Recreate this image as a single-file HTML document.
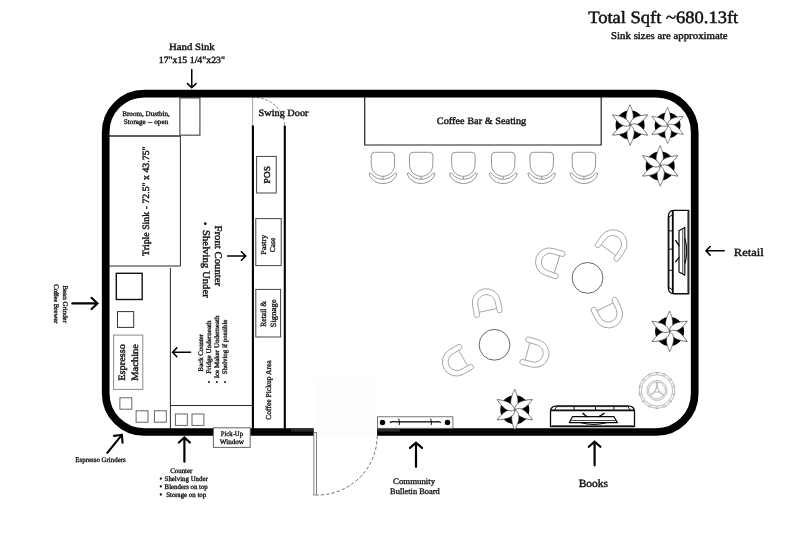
<!DOCTYPE html>
<html>
<head>
<meta charset="utf-8">
<title>Floor Plan</title>
<style>
html,body{margin:0;padding:0;background:#fff;}
body{width:800px;height:533px;overflow:hidden;font-family:"Liberation Serif",serif;}
svg{display:block;will-change:transform;opacity:0.999;}
text{font-family:"Liberation Serif",serif;text-rendering:geometricPrecision;}
</style>
</head>
<body>
<svg width="800" height="533" viewBox="0 0 800 533">
<defs>
  <g id="stool" fill="none" stroke="#7a7a7a" stroke-width="0.8">
    <path d="M-8.3,-14.7 Q-11.8,-14.7 -11.8,-11 L-11.6,-2 C-11.3,5 -6,9.3 0,9.3 C6,9.3 11.3,5 11.6,-2 L11.8,-11 Q11.8,-14.7 8.3,-14.7 Z" fill="#fff"/>
    <path d="M-13.8,7 Q-13.7,5.6 -12.5,5.9 Q-11.5,6.2 -11,7.3 C-8,10.6 -4,12.3 0,12.3 C4,12.3 8,10.6 11,7.3 Q11.5,6.2 12.5,5.9 Q13.7,5.6 13.8,7 C12,13.2 6,16.5 0,16.5 C-6,16.5 -12,13.2 -13.8,7 Z" fill="#fff"/>
    <path d="M0,9.5 V12.1"/>
  </g>
  <path id="petal" d="M0,0 C-6.4,-3.6 -4.5,-11.5 0,-20.4 C2.9,-13.5 5.3,-6 0,0 Z" fill="#fff" stroke="#333" stroke-width="0.6" stroke-linejoin="round"/>
  <g id="plant">
    <circle r="14.5" fill="#000"/>
    <use href="#petal"/>
    <use href="#petal" transform="rotate(60)"/>
    <use href="#petal" transform="rotate(120)"/>
    <use href="#petal" transform="rotate(180)"/>
    <use href="#petal" transform="rotate(240)"/>
    <use href="#petal" transform="rotate(300)"/>
  </g>
  <g id="chair" fill="none" stroke="#9a9a9a" stroke-width="0.8">
    <path d="M-14.2,10.6 L-14,0.5 A14,14 0 0 1 14,0.5 L14.2,10.6 A2.6,2.6 0 0 1 9,10.6 L8.8,1 A8.8,8.6 0 0 0 -8.8,1 L-9,10.6 A2.6,2.6 0 0 1 -14.2,10.6 Z" fill="#fff"/>
    <path d="M-9,8.4 H9"/>
  </g>
  <!-- shelf (books orientation: rail on top) centred at origin, 84.4 x 21 -->
  <g id="shelf" fill="none" stroke="#0a0a0a" stroke-linejoin="round">
    <path d="M-42,10.4 V-5 Q-42,-10.3 -35,-10.4 H35 Q42,-10.3 42,-5 V10.4 Z" fill="#fff" stroke-width="1.3"/>
    <path d="M-42,-5.8 H42" stroke-width="1.9"/>
    <path d="M-37,-9.6 H36.5" stroke-width="0.9" stroke="#111"/>
    <path d="M-18.4,-10 V-6 M3,-10 V-6 M21.4,-10 V-6 M-35.6,-10 L-38.2,-6 M35.1,-10 L37.7,-6" stroke-width="1" stroke="#111"/>
    <path d="M-23.2,6.4 L-20,0.5 H21.5 L24.9,6.4 Z" stroke-width="1.2"/>
    <path d="M-21.3,4.3 H23.2" stroke-width="0.9" stroke="#333"/>
    <path d="M-9.6,-2.8 L-5.6,0.5 M11.6,-2.8 L6.6,0.5" stroke-width="1.4" stroke-linecap="round"/>
    <path d="M-11.5,6.6 Q1,10 13.8,6.6" stroke-width="1.1"/>
    <path d="M-41,9.4 H41" stroke-width="0.9" stroke="#444"/>
  </g>
</defs>

<rect x="314.4" y="376.5" width="62.2" height="59.3" fill="#fffcfc"/>
<g fill="none" stroke="#2a2a2a" stroke-width="1">
<path d="M109,135.9 H180.4" stroke-width="1.5"/>
<path d="M180.4,135 V266 H109"/>
<rect x="179.9" y="97.9" width="20" height="37.3" stroke="#5c5c5c" stroke-width="1.3"/>
<path d="M170.4,268 V430"/>
<path d="M170.4,405.5 H252"/>
</g>
<path d="M364.7,97 V145 H601.2 V97" fill="none" stroke="#222" stroke-width="1.2"/>
<path d="M252.6,97 V126" stroke="#999" stroke-width="0.9" fill="none"/>
<path d="M252.6,97.2 A32,28.4 0 0 1 284.6,125.6" stroke="#505050" stroke-width="0.8" stroke-dasharray="2.4,2" fill="none"/>
<path d="M252.9,125.6 V430 M284.8,125.6 V430" stroke="#000" stroke-width="2.1" fill="none"/>
<path d="M313.6,432.0 H144.2 A38.5,38.5 0 0 1 105.7,393.5 V132.1 A38.5,38.5 0 0 1 144.2,93.6 H656.2 A38.5,38.5 0 0 1 694.7,132.1 V393.5 A38.5,38.5 0 0 1 656.2,432.0 H377.1" fill="none" stroke="#000" stroke-width="7.7"/>
<rect x="291" y="428.6" width="22.6" height="3" fill="#2b2b2b"/>
<rect x="377.1" y="428.6" width="23" height="3" fill="#2b2b2b"/>
<g fill="#fff" stroke="#444" stroke-width="1">
<rect x="256.6" y="156.4" width="19.6" height="36.6"/>
<rect x="255.8" y="218.6" width="25.4" height="47"/>
<rect x="255.8" y="289.4" width="24.8" height="47.6"/>
</g>
<rect x="116.3" y="273.3" width="25.9" height="26.2" fill="#fff" stroke="#111" stroke-width="1.4"/>
<rect x="117.5" y="311.6" width="16.2" height="15.8" fill="#fff" stroke="#333" stroke-width="1"/>
<rect x="113.6" y="335.1" width="29.2" height="54.3" fill="#fff" stroke="#8a8a8a" stroke-width="1"/>
<g fill="#fff" stroke="#5e5e5e" stroke-width="0.95">
<rect x="119.9" y="397.8" width="11.9" height="11.4"/>
<rect x="136.1" y="410.8" width="11.9" height="11.4"/>
<rect x="154.4" y="410.8" width="11.9" height="11.4"/>
<rect x="175.4" y="414" width="11.9" height="11.4"/>
<rect x="192" y="414" width="11.9" height="11.4"/>
</g>
<rect x="213.4" y="427.8" width="36.8" height="19.6" fill="#fff" stroke="#666" stroke-width="1"/>
<rect x="313.9" y="432.4" width="2.6" height="62.6" fill="#fff" stroke="#4a4a4a" stroke-width="0.7"/>
<path d="M377.2,435.9 A60.3,59.4 0 0 1 317,495.1" stroke="#444" stroke-width="0.8" stroke-dasharray="3.2,2.2" fill="none"/>
<rect x="377.5" y="416.8" width="75.4" height="11.5" fill="#fff" stroke="#555" stroke-width="0.8"/>
<circle cx="382.5" cy="422.4" r="2.75" fill="#000"/><circle cx="447.5" cy="422.4" r="2.75" fill="#000"/>
<path d="M389.8,422.4 Q392,421.4 396,421.8 H436 Q439,421.4 441,422.6" stroke="#000" stroke-width="1.2" fill="none"/>
<path d="M398.6,418.6 Q400,421.6 399.2,425.2 M430.6,418.6 Q432,421.6 431.2,425.2" stroke="#000" stroke-width="0.9" fill="none"/>
<use href="#stool" x="382.9" y="167"/>
<use href="#stool" x="421.2" y="167"/>
<use href="#stool" x="463.4" y="167"/>
<use href="#stool" x="503.2" y="167"/>
<use href="#stool" x="541.7" y="167"/>
<use href="#stool" x="583.9" y="167"/>
<use href="#plant" transform="translate(630.1,125) scale(1)"/>
<use href="#plant" transform="translate(667.6,125.4) scale(0.89)"/>
<use href="#plant" transform="translate(660.2,165.9) scale(1)"/>
<use href="#plant" transform="translate(669.6,331.4) scale(1)"/>
<use href="#plant" transform="translate(514.8,409.7) scale(1)"/>
<circle cx="587.5" cy="277.9" r="15.4" fill="#fff" stroke="#666" stroke-width="1"/>
<circle cx="494.5" cy="344.8" r="15.4" fill="#fff" stroke="#666" stroke-width="1"/>
<use href="#chair" transform="translate(549.0,261.8) rotate(-72.7)"/>
<use href="#chair" transform="translate(613.4,243.3) rotate(36)"/>
<use href="#chair" transform="translate(608.8,314.4) rotate(154)"/>
<use href="#chair" transform="translate(486.2,302.2) rotate(-11.6)"/>
<use href="#chair" transform="translate(455.9,362.3) rotate(-120)"/>
<use href="#chair" transform="translate(535.6,353.6) rotate(105)"/>
<g fill="none" stroke="#909090" stroke-width="0.6">
<polygon points="657.00,372.30 664.85,374.09 671.15,379.11 674.65,386.37 674.65,394.43 671.15,401.69 664.85,406.71 657.00,408.50 649.15,406.71 642.85,401.69 639.35,394.43 639.35,386.37 642.85,379.11 649.15,374.09" fill="#fff"/>
<circle cx="657" cy="390.4" r="15.7"/>
<circle cx="657.00" cy="373.20" r="1.0" stroke-width="0.45"/>
<circle cx="664.46" cy="374.90" r="1.0" stroke-width="0.45"/>
<circle cx="670.45" cy="379.68" r="1.0" stroke-width="0.45"/>
<circle cx="673.77" cy="386.57" r="1.0" stroke-width="0.45"/>
<circle cx="673.77" cy="394.23" r="1.0" stroke-width="0.45"/>
<circle cx="670.45" cy="401.12" r="1.0" stroke-width="0.45"/>
<circle cx="664.46" cy="405.90" r="1.0" stroke-width="0.45"/>
<circle cx="657.00" cy="407.60" r="1.0" stroke-width="0.45"/>
<circle cx="649.54" cy="405.90" r="1.0" stroke-width="0.45"/>
<circle cx="643.55" cy="401.12" r="1.0" stroke-width="0.45"/>
<circle cx="640.23" cy="394.23" r="1.0" stroke-width="0.45"/>
<circle cx="640.23" cy="386.57" r="1.0" stroke-width="0.45"/>
<circle cx="643.55" cy="379.68" r="1.0" stroke-width="0.45"/>
<circle cx="649.54" cy="374.90" r="1.0" stroke-width="0.45"/>
<circle cx="657" cy="390.4" r="10"/><circle cx="657" cy="390.4" r="8.4"/><circle cx="657" cy="390.4" r="1.9"/>
<path d="M656.40,388.50 L656.40,382.00"/>
<path d="M657.60,388.50 L657.60,382.00"/>
<path d="M658.90,391.00 L664.23,394.73"/>
<path d="M658.21,391.98 L663.54,395.71"/>
<path d="M655.79,391.98 L650.46,395.71"/>
<path d="M655.10,391.00 L649.77,394.73"/>
</g>
<use href="#shelf" transform="translate(592.5,416.2)"/>
<use href="#shelf" transform="translate(678.5,252.1) rotate(-90) scale(0.992,0.985)"/>
<path d="M191.75,69.55 L191.75,87.66 M187.43,83.58 L191.75,87.66 L196.07,83.58" fill="none" stroke="#000" stroke-width="1.5" stroke-linecap="round" stroke-linejoin="miter"/>
<path d="M72.25,303.40 L97.49,303.40 M91.53,309.05 L97.49,303.40 L91.53,297.75" fill="none" stroke="#000" stroke-width="2.1" stroke-linecap="round" stroke-linejoin="miter"/>
<path d="M227.60,256.00 L245.73,256.00 M241.40,260.28 L245.73,256.00 L241.40,251.72" fill="none" stroke="#000" stroke-width="1.6" stroke-linecap="round" stroke-linejoin="miter"/>
<path d="M190.50,352.30 L172.63,352.30 M176.80,347.92 L172.63,352.30 L176.80,356.68" fill="none" stroke="#000" stroke-width="1.6" stroke-linecap="round" stroke-linejoin="miter"/>
<path d="M107.26,452.79 L121.91,434.83 M122.50,442.74 L121.91,434.83 L114.05,435.84" fill="none" stroke="#000" stroke-width="2.1" stroke-linecap="round" stroke-linejoin="miter"/>
<path d="M184.40,461.70 L184.40,437.46 M189.91,442.45 L184.40,437.46 L178.89,442.45" fill="none" stroke="#000" stroke-width="2.2" stroke-linecap="round" stroke-linejoin="miter"/>
<path d="M416.00,466.80 L416.00,442.79 M422.01,447.95 L416.00,442.79 L409.99,447.95" fill="none" stroke="#000" stroke-width="2.2" stroke-linecap="round" stroke-linejoin="miter"/>
<path d="M594.60,465.30 L594.60,441.62 M600.41,446.75 L594.60,441.62 L588.79,446.75" fill="none" stroke="#000" stroke-width="2.2" stroke-linecap="round" stroke-linejoin="miter"/>
<path d="M724.20,250.80 L706.03,250.80 M710.10,246.52 L706.03,250.80 L710.10,255.08" fill="none" stroke="#000" stroke-width="1.6" stroke-linecap="round" stroke-linejoin="miter"/>
<text x="588.2" y="23.1" font-size="17.37" text-anchor="start" fill="#111" textLength="150" lengthAdjust="spacingAndGlyphs" stroke="#111" stroke-width="0.5">Total Sqft ~680.13ft</text>
<text x="611" y="38.7" font-size="10.19" text-anchor="start" fill="#111" textLength="116.7" lengthAdjust="spacingAndGlyphs" stroke="#111" stroke-width="0.4">Sink sizes are approximate</text>
<text x="169" y="49.75" font-size="9.67" text-anchor="start" fill="#111" textLength="45.75" lengthAdjust="spacingAndGlyphs" stroke="#111" stroke-width="0.4">Hand Sink</text>
<text x="158.75" y="62.5" font-size="9.46" text-anchor="start" fill="#111" textLength="66.25" lengthAdjust="spacingAndGlyphs" stroke="#111" stroke-width="0.4">17"x15 1/4"x23"</text>
<text x="122.25" y="115.75" font-size="7.04" text-anchor="start" fill="#111" textLength="47.5" lengthAdjust="spacingAndGlyphs" stroke="#111" stroke-width="0.32">Broom, Dustbin,</text>
<text x="123.75" y="124.25" font-size="7.04" text-anchor="start" fill="#111" textLength="44.5" lengthAdjust="spacingAndGlyphs" stroke="#111" stroke-width="0.32">Storage -- open</text>
<text x="258.5" y="115.6" font-size="9.67" text-anchor="start" fill="#111" textLength="50" lengthAdjust="spacingAndGlyphs" stroke="#111" stroke-width="0.4">Swing Door</text>
<text x="436.8" y="123.5" font-size="9.67" text-anchor="start" fill="#111" textLength="89.4" lengthAdjust="spacingAndGlyphs" stroke="#111" stroke-width="0.4">Coffee Bar &amp; Seating</text>
<text x="733.8" y="255.8" font-size="11.23" text-anchor="start" fill="#111" textLength="30" lengthAdjust="spacingAndGlyphs" stroke="#111" stroke-width="0.4">Retail</text>
<text x="578.7" y="486.7" font-size="11.02" text-anchor="start" fill="#111" textLength="29.3" lengthAdjust="spacingAndGlyphs" stroke="#111" stroke-width="0.4">Books</text>
<text x="393.1" y="483.8" font-size="8.32" text-anchor="start" fill="#111" textLength="42" lengthAdjust="spacingAndGlyphs" stroke="#111" stroke-width="0.32">Community</text>
<text x="390.1" y="493.7" font-size="8.32" text-anchor="start" fill="#111" textLength="49.7" lengthAdjust="spacingAndGlyphs" stroke="#111" stroke-width="0.32">Bulletin Board</text>
<text x="220.8" y="436" font-size="7.04" text-anchor="start" fill="#111" textLength="22.2" lengthAdjust="spacingAndGlyphs" stroke="#111" stroke-width="0.32">Pick-Up</text>
<text x="219.8" y="443.7" font-size="7.04" text-anchor="start" fill="#111" textLength="24.2" lengthAdjust="spacingAndGlyphs" stroke="#111" stroke-width="0.32">Window</text>
<text x="75.3" y="462.1" font-size="6.93" text-anchor="start" fill="#111" textLength="50.4" lengthAdjust="spacingAndGlyphs" stroke="#111" stroke-width="0.32">Espresso Grinders</text>
<text x="170.3" y="472.7" font-size="6.93" text-anchor="start" fill="#111" textLength="22" lengthAdjust="spacingAndGlyphs" stroke="#111" stroke-width="0.32">Counter</text>
<text x="164.6" y="480.8" font-size="6.93" text-anchor="start" fill="#111" textLength="43.2" lengthAdjust="spacingAndGlyphs" stroke="#111" stroke-width="0.32">Shelving Under</text>
<circle cx="160.8" cy="478.7" r="1.15" fill="#111"/>
<text x="164.6" y="488.5" font-size="6.93" text-anchor="start" fill="#111" textLength="43.2" lengthAdjust="spacingAndGlyphs" stroke="#111" stroke-width="0.32">Blenders on top</text>
<circle cx="160.8" cy="486.4" r="1.15" fill="#111"/>
<text x="166.2" y="496.6" font-size="6.93" text-anchor="start" fill="#111" textLength="40" lengthAdjust="spacingAndGlyphs" stroke="#111" stroke-width="0.32">Storage on top</text>
<circle cx="160.8" cy="494.5" r="1.15" fill="#111"/>
<text transform="translate(149.4,256) rotate(-90)" font-size="9.67" text-anchor="start" fill="#111" textLength="109.6" lengthAdjust="spacingAndGlyphs" stroke="#111" stroke-width="0.4">Triple Sink - 72.5" x 43.75"</text>
<text transform="translate(269.7,183.4) rotate(-90)" font-size="9.05" text-anchor="start" fill="#111" textLength="17.4" lengthAdjust="spacingAndGlyphs" stroke="#111" stroke-width="0.4">POS</text>
<text transform="translate(266.2,254.8) rotate(-90)" font-size="7.56" text-anchor="start" fill="#111" textLength="20" lengthAdjust="spacingAndGlyphs" stroke="#111" stroke-width="0.32">Pastry</text>
<text transform="translate(275.1,252.3) rotate(-90)" font-size="7.56" text-anchor="start" fill="#111" textLength="14.7" lengthAdjust="spacingAndGlyphs" stroke="#111" stroke-width="0.32">Case</text>
<text transform="translate(266.1,326.8) rotate(-90)" font-size="7.99" text-anchor="start" fill="#111" textLength="26" lengthAdjust="spacingAndGlyphs" stroke="#111" stroke-width="0.32">Retail &amp;</text>
<text transform="translate(275.7,327.4) rotate(-90)" font-size="7.99" text-anchor="start" fill="#111" textLength="28" lengthAdjust="spacingAndGlyphs" stroke="#111" stroke-width="0.32">Signage</text>
<text transform="translate(125.0,380.7) rotate(-90)" font-size="9.67" text-anchor="start" fill="#111" textLength="36.7" lengthAdjust="spacingAndGlyphs" stroke="#111" stroke-width="0.4">Espresso</text>
<text transform="translate(138.0,380.7) rotate(-90)" font-size="9.67" text-anchor="start" fill="#111" textLength="36.7" lengthAdjust="spacingAndGlyphs" stroke="#111" stroke-width="0.4">Machine</text>
<text transform="translate(271.4,419.8) rotate(-90)" font-size="7.59" text-anchor="start" fill="#111" textLength="59.5" lengthAdjust="spacingAndGlyphs" stroke="#111" stroke-width="0.32">Coffee Pickup Area</text>
<text transform="translate(202.6,371.4) rotate(-90)" font-size="6.82" text-anchor="start" fill="#111" textLength="37.5" lengthAdjust="spacingAndGlyphs" stroke="#111" stroke-width="0.32">Back Counter</text>
<text transform="translate(210.7,373.8) rotate(-90)" font-size="6.82" text-anchor="start" fill="#111" textLength="53.4" lengthAdjust="spacingAndGlyphs" stroke="#111" stroke-width="0.32">Fridge Underneath</text>
<circle cx="208.9" cy="382" r="0.95" fill="#111"/>
<text transform="translate(218.7,378.3) rotate(-90)" font-size="6.82" text-anchor="start" fill="#111" textLength="62.7" lengthAdjust="spacingAndGlyphs" stroke="#111" stroke-width="0.32">Ice Maker Underneath</text>
<circle cx="216.8" cy="382" r="0.95" fill="#111"/>
<text transform="translate(226.7,374.3) rotate(-90)" font-size="6.82" text-anchor="start" fill="#111" textLength="54.7" lengthAdjust="spacingAndGlyphs" stroke="#111" stroke-width="0.32">Shelving if possible</text>
<circle cx="225.1" cy="382" r="0.95" fill="#111"/>
<text transform="translate(215.0,225.5) rotate(90)" font-size="10.09" text-anchor="start" fill="#111" textLength="60.7" lengthAdjust="spacingAndGlyphs" stroke="#111" stroke-width="0.4">Front Counter</text>
<text transform="translate(203.0,230) rotate(90)" font-size="10.09" text-anchor="start" fill="#111" textLength="67.8" lengthAdjust="spacingAndGlyphs" stroke="#111" stroke-width="0.4">Shelving Under</text>
<circle cx="205.3" cy="223.7" r="1.4" fill="#111"/>
<text transform="translate(63,285.4) rotate(90)" font-size="6.82" text-anchor="start" fill="#111" textLength="37.6" lengthAdjust="spacingAndGlyphs" stroke="#111" stroke-width="0.32">Bean Grinder</text>
<text transform="translate(54.2,284.2) rotate(90)" font-size="6.82" text-anchor="start" fill="#111" textLength="39.2" lengthAdjust="spacingAndGlyphs" stroke="#111" stroke-width="0.32">Coffee Brewer</text>
</svg>
</body>
</html>
